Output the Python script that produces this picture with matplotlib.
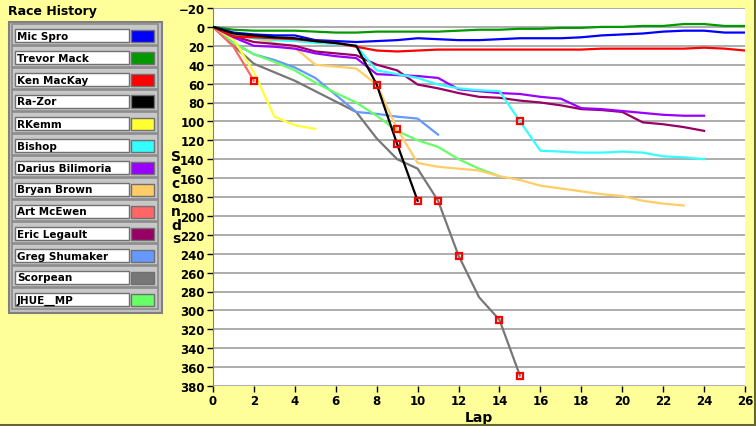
import matplotlib
matplotlib.use("Agg")
import matplotlib.pyplot as plt
from matplotlib.patches import Rectangle

# race data: cumulative seconds behind the leader, one value per lap
drivers = ["Mic Spro", "Trevor Mack", "Ken MacKay", "Ra-Zor", "RKemm", "Bishop",
           "Darius Bilimoria", "Bryan Brown", "Art McEwen", "Eric Legault",
           "Greg Shumaker", "Scorpean", "JHUE__MP"]
colors = ["#0000FF", "#009900", "#FF0000", "#000000", "#FFFF33", "#33FFFF",
          "#9900FF", "#FFCC66", "#FF6666", "#990066", "#6699FF", "#777777", "#66FF66"]

mic_spro = [0, 6, 8, 9, 9, 14, 15, 16, 15, 14, 12, 13, 14, 14, 13, 12, 12, 12, 11, 9, 8, 7, 5, 4, 4, 6, 6]
trevor_mack = [0, 3, 4, 4, 4, 5, 6, 6, 5, 5, 5, 5, 4, 3, 3, 2, 2, 1, 1, 0, 0, -1, -1, -3, -3, -1, -1]
ken_mackay = [0, 10, 11, 12, 13, 15, 17, 21, 25, 26, 25, 24, 24, 24, 24, 24, 24, 24, 24, 23, 23, 23, 23, 23, 22, 23, 25]
ra_zor = [0, 7, 9, 11, 12, 15, 17, 20, 61, 124, 184]
rkemm = [0, 13, 48, 95, 104, 108]
bishop = [0, 8, 12, 14, 15, 17, 18, 20, 46, 50, 54, 61, 65, 67, 68, 100, 131, 132, 133, 133, 132, 133, 137, 138, 140]
darius = [0, 11, 20, 21, 23, 28, 31, 33, 50, 51, 52, 54, 66, 68, 70, 71, 74, 76, 86, 87, 89, 91, 93, 94, 94]
bryan_brown = [0, 9, 12, 17, 22, 40, 42, 44, 61, 108, 144, 148, 150, 152, 158, 162, 168, 171, 174, 177, 179, 184, 187, 189]
art_mcewen = [0, 21, 57]
eric_legault = [0, 10, 16, 18, 20, 26, 28, 30, 40, 46, 61, 65, 70, 74, 75, 78, 80, 83, 87, 88, 90, 101, 103, 106, 110]
greg_shumaker = [0, 17, 29, 35, 43, 54, 72, 90, 92, 95, 97, 114]
scorpean = [0, 20, 39, 48, 57, 68, 79, 90, 118, 140, 150, 184, 242, 286, 310, 369]
jhue_mp = [0, 17, 29, 37, 46, 59, 70, 80, 94, 110, 120, 127, 140, 150, 158]

series = [mic_spro, trevor_mack, ken_mackay, ra_zor, rkemm, bishop, darius,
          bryan_brown, art_mcewen, eric_legault, greg_shumaker, scorpean, jhue_mp]

# red squares: (driver index, lap)
marks = [(8, 2), (3, 8), (7, 9), (3, 9), (3, 10), (11, 11), (11, 12),
         (11, 14), (11, 15), (5, 15)]

bg = "#FFFF99"
W, H = 756, 427
fig = plt.figure(figsize=(W / 100, H / 100), dpi=100, facecolor=bg)

ax = fig.add_axes([213 / W, (H - 387) / H, (745 - 213) / W, (387 - 9) / H])
ax.set_facecolor("white")

draw_order = [11, 10, 12, 8, 4, 7, 9, 6, 5, 1, 0, 2, 3]
for i in draw_order:
    laps = list(range(len(series[i])))
    ax.plot(laps, series[i], color=colors[i], lw=1.6, zorder=3)

for i, lap in marks:
    ax.plot(lap, series[i][lap], marker="s", ms=5, mfc="none", mec="#FF0000",
            mew=1.6, zorder=5, ls="none")

ax.set_xlim(0, 26)
ax.set_ylim(380, -20)
ax.set_xticks(range(0, 27, 2))
ax.set_yticks(range(-20, 381, 20))
ax.yaxis.grid(True, color="#A0A0A0", lw=1.2, zorder=1)
ax.set_axisbelow(True)
for s in ["top", "right"]:
    ax.spines[s].set_visible(False)
ax.spines["left"].set_color("#808080")
ax.spines["bottom"].set_visible(False)
ax.tick_params(axis="both", length=4, width=1, color="black", labelsize=8.5, pad=2)
for lab in ax.get_xticklabels() + ax.get_yticklabels():
    lab.set_fontweight("bold")
ax.set_xlabel("Lap", fontsize=10, fontweight="bold", labelpad=2)

fig.text(176 / W, 1 - 198 / H, "S\ne\nc\no\nn\nd\ns", ha="center", va="center",
         fontsize=10, fontweight="bold", linespacing=0.98)

# legend panel
fig.text(8 / W, 1 - 12 / H, "Race History", ha="left", va="center",
         fontsize=9, fontweight="bold")


def box(x, y, w, h, **kw):
    fig.patches.append(Rectangle((x / W, 1 - (y + h) / H), w / W, h / H,
                                 transform=fig.transFigure, **kw))


box(8.5, 22.5, 153, 291, facecolor="#C0C0C0", edgecolor="#808080", lw=1.5)
for k, name in enumerate(drivers):
    y0 = 25 + 22 * k
    box(12, y0, 146, 21, facecolor="#C8C8C8", edgecolor="#8C8C8C", lw=1.2)
    box(15, y0 + 5, 114, 13, facecolor="white", edgecolor="#707070", lw=1.0)
    box(131, y0 + 5.5, 23, 12, facecolor=colors[k], edgecolor="#707070", lw=1.0)
    fig.text(17 / W, 1 - (y0 + 11.5) / H, name, ha="left", va="center",
             fontsize=7.5, fontweight="bold")

# outer frame lines on bottom and right
fig.lines.append(plt.Line2D([0, 1], [1.5 / H, 1.5 / H], transform=fig.transFigure,
                            color="#666633", lw=1.5))
fig.lines.append(plt.Line2D([1 - 1.5 / W, 1 - 1.5 / W], [0, 1], transform=fig.transFigure,
                            color="#666633", lw=1.5))

fig.savefig("out.png", dpi=100, facecolor=bg)
